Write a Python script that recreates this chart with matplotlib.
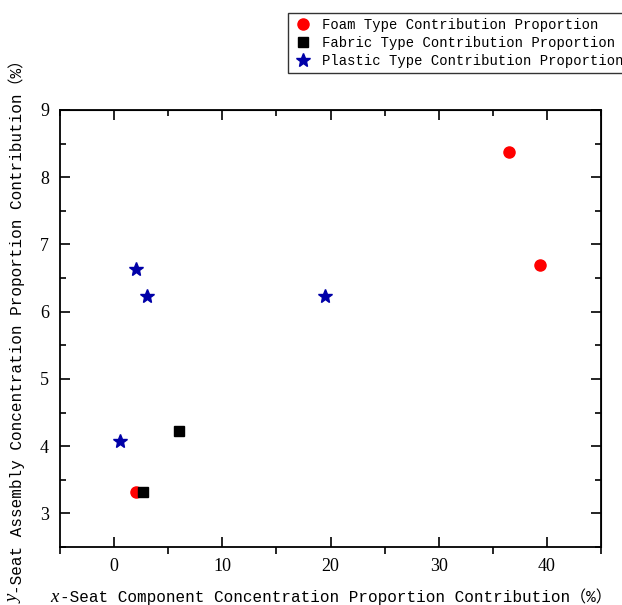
import matplotlib
matplotlib.use("Agg")
import matplotlib.pyplot as plt
from matplotlib.ticker import MultipleLocator

# values
foam_x = [36.5, 39.4, 2.0]
foam_y = [8.37, 6.70, 3.32]
fabric_x = [6.0, 2.7]
fabric_y = [4.22, 3.32]
plastic_x = [2.0, 3.0, 19.5, 0.5]
plastic_y = [6.63, 6.23, 6.23, 4.07]
series_labels = ["Foam Type Contribution Proportion",
                 "Fabric Type Contribution Proportion",
                 "Plastic Type Contribution Proportion"]
xlabel_var, xlabel_rest = "x", "-Seat Component Concentration Proportion Contribution\uff08%\uff09"
ylabel_var, ylabel_rest = "y", "-Seat Assembly Concentration Proportion Contribution\uff08%\uff09"

mono = ['Liberation Mono', 'Noto Sans CJK SC', 'DejaVu Sans']
serif = ['Liberation Serif', 'DejaVu Serif']
W, H = 622, 605

fig = plt.figure(figsize=(W / 100, H / 100), dpi=100)
ax = fig.add_axes([60 / W, 58 / H, 541 / W, 437 / H])

h1, = ax.plot(foam_x, foam_y, 'o', color='#ff0000', ms=8, ls='none')
h2, = ax.plot(fabric_x, fabric_y, 's', color='black', ms=7, ls='none')
h3, = ax.plot(plastic_x, plastic_y, '*', color='#0000a8', ms=10, ls='none')

ax.set_xlim(-5, 45)
ax.set_ylim(2.5, 9)
ax.xaxis.set_major_locator(MultipleLocator(10))
ax.xaxis.set_minor_locator(MultipleLocator(5))
ax.yaxis.set_major_locator(MultipleLocator(1))
ax.yaxis.set_minor_locator(MultipleLocator(0.5))
ax.tick_params(axis='x', which='major', direction='in', length=7, width=1.2, pad=8)
ax.tick_params(axis='x', which='minor', direction='out', length=5, width=1.2)
ax.tick_params(axis='y', which='major', direction='in', length=7, width=1.2, pad=8)
ax.tick_params(axis='y', which='minor', direction='in', length=4, width=1.2)
for lab in ax.get_xticklabels() + ax.get_yticklabels():
    lab.set_family(serif)
    lab.set_fontsize(13)
for sp in ax.spines.values():
    sp.set_linewidth(1.3)

# top and right ticks, all pointing inward
top = ax.secondary_xaxis('top')
top.xaxis.set_major_locator(MultipleLocator(10))
top.xaxis.set_minor_locator(MultipleLocator(5))
top.tick_params(which='major', direction='in', length=7, width=1.2, labeltop=False)
top.tick_params(which='minor', direction='in', length=4, width=1.2)
right = ax.secondary_yaxis('right')
right.yaxis.set_major_locator(MultipleLocator(1))
right.yaxis.set_minor_locator(MultipleLocator(0.5))
right.tick_params(which='major', direction='in', length=7, width=1.2, labelright=False)
right.tick_params(which='minor', direction='in', length=4, width=1.2)

# axis labels: italic variable letter + mono text, centred on the axes
lab_size = 11.5
xv = fig.text(0, 0, xlabel_var, family=serif, style='italic', fontsize=13.5, va='baseline')
xr = fig.text(0, 0, xlabel_rest, family=mono, fontsize=lab_size, va='baseline')
yv = fig.text(0, 0, ylabel_var, family=serif, style='italic', fontsize=13.5,
              rotation=90, ha='left', va='bottom')
yr = fig.text(0, 0, ylabel_rest, family=mono, fontsize=lab_size,
              rotation=90, ha='left', va='bottom')
fig.canvas.draw()
r = fig.canvas.get_renderer()
wxv = xv.get_window_extent(r).width
wxr = xr.get_window_extent(r).width
x0 = 330.5 - (wxv + wxr) / 2
base = 3
xv.set_position((x0 / W, base / H))
xr.set_position(((x0 + wxv + 1) / W, base / H))
hyv = yv.get_window_extent(r).height
hyr = yr.get_window_extent(r).height
y0 = (H - 328) - (hyv + hyr) / 2
yv.set_position((6 / W, y0 / H))
yr.set_position((8 / W, (y0 + hyv + 1) / H))

leg = fig.legend([h1, h2, h3], series_labels, loc='upper left',
                 bbox_to_anchor=(288 / W, 1 - 13 / H),
                 prop={'family': mono, 'size': 10.0}, frameon=True, fancybox=False,
                 borderpad=0.35, labelspacing=0.3, handletextpad=0.6,
                 handlelength=1.5, borderaxespad=0)
leg.get_frame().set_edgecolor('black')
leg.get_frame().set_linewidth(1.0)

fig.savefig('out.png', dpi=100)
